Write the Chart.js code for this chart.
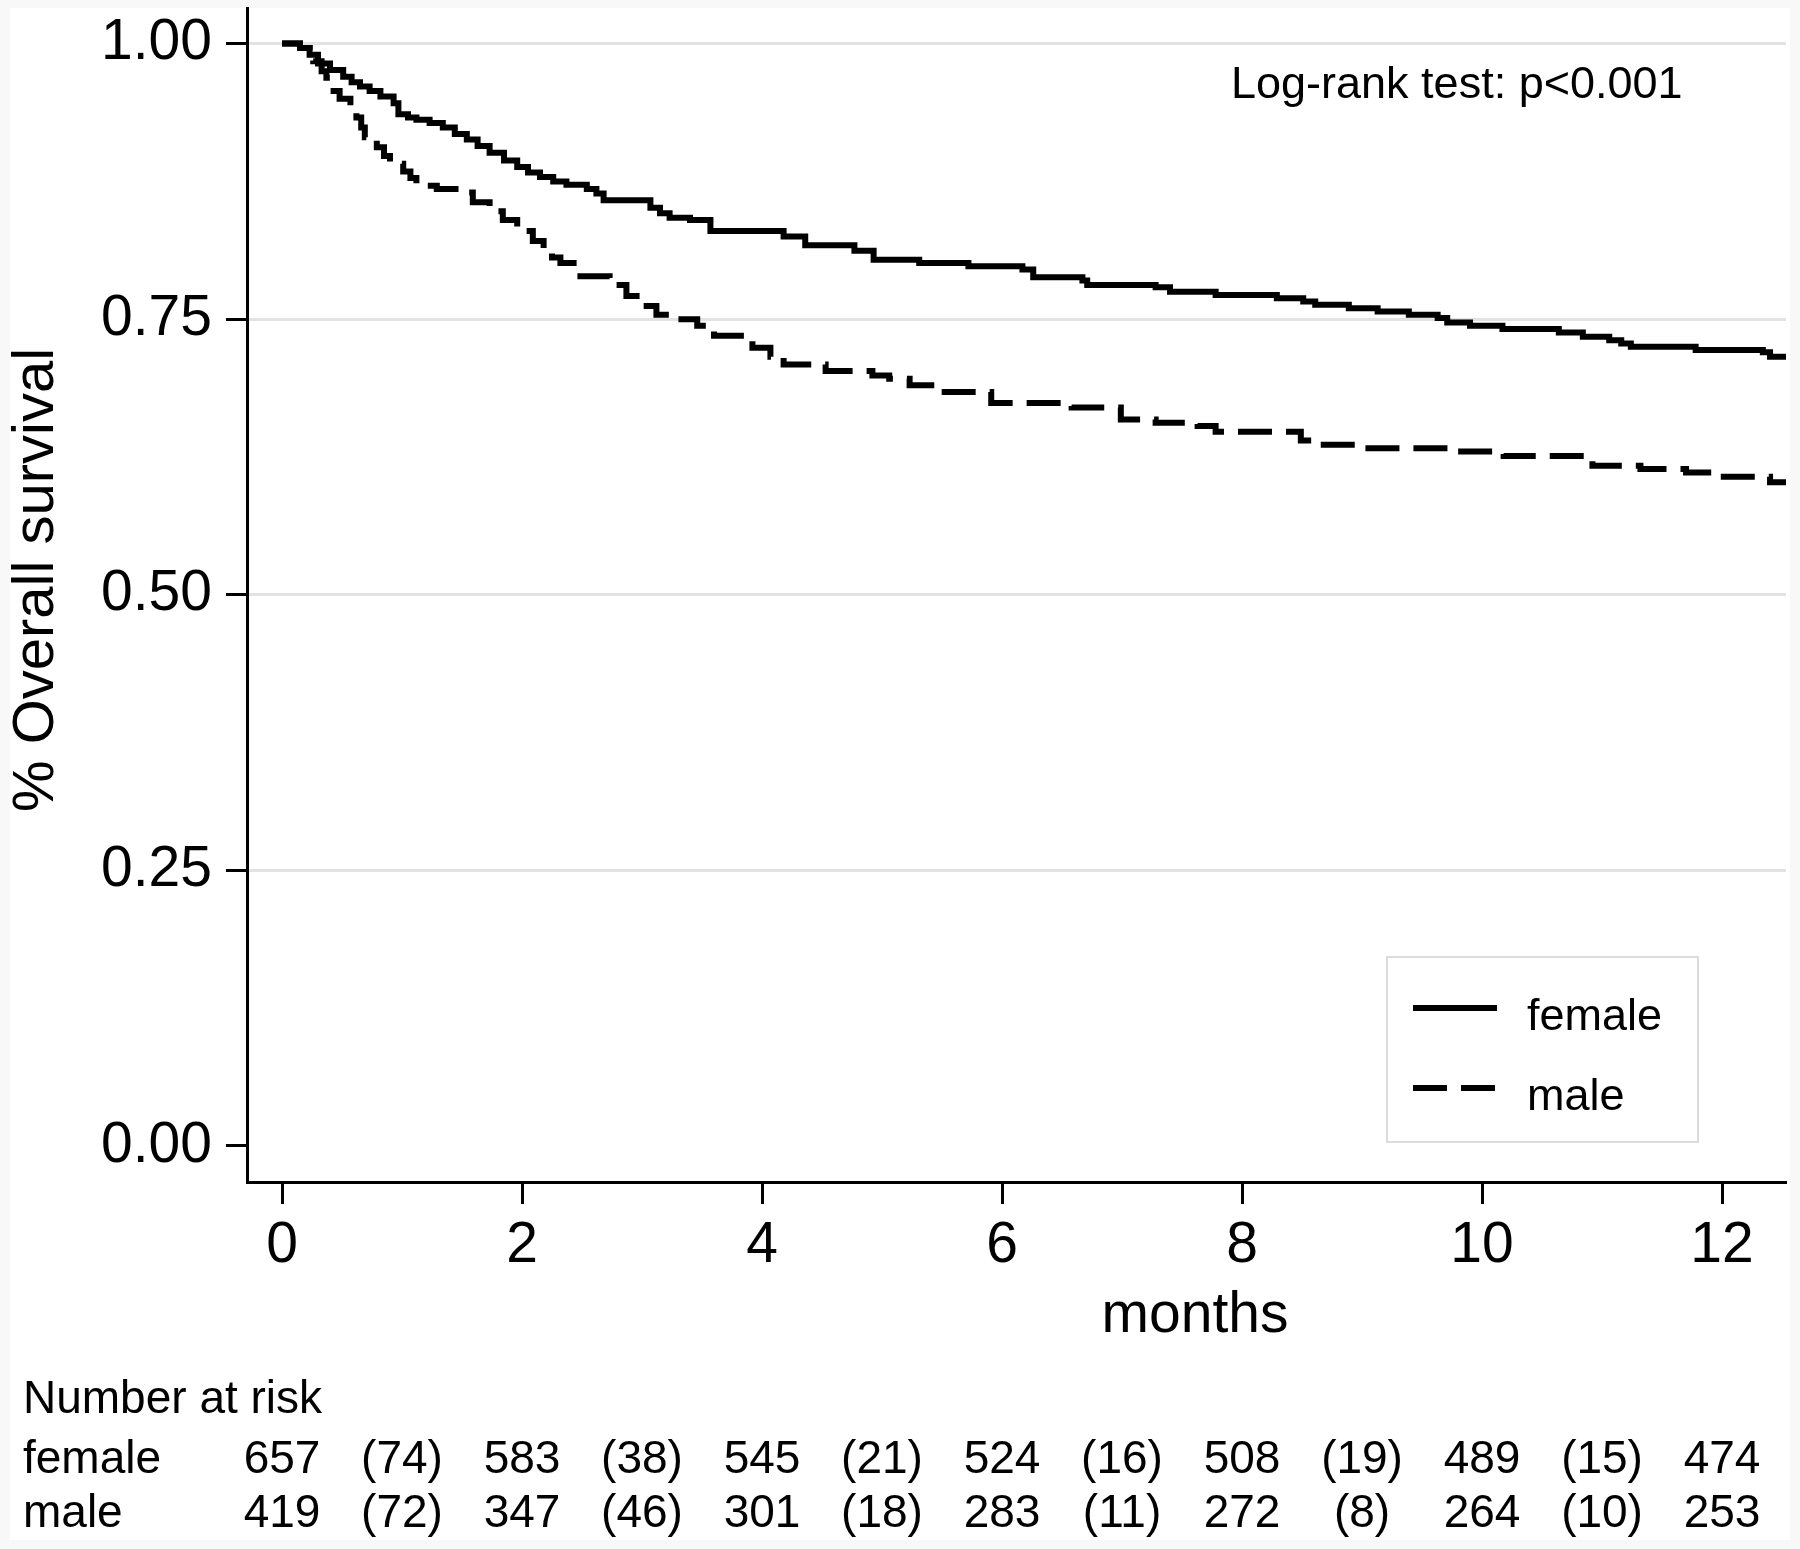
<!DOCTYPE html>
<html>
<head>
<meta charset="utf-8">
<script src="https://cdn.jsdelivr.net/npm/chart.js@4/dist/chart.umd.min.js"></script>
<style>
  html, body { margin: 0; padding: 0; background: #fff; }
  canvas { display: block; }
</style>
</head>
<body>
<canvas id="c" width="1800" height="1549"></canvas>
<script>
// ---------------- DATA ----------------
const seriesNames = ['female', 'male'];

const femaleTime = [0, 0.15, 0.23, 0.30, 0.40, 0.51, 0.58, 0.65, 0.73, 0.82, 0.93, 0.97, 1.05, 1.12, 1.23, 1.34, 1.44, 1.54, 1.63, 1.73, 1.85, 1.96, 2.05, 2.15, 2.26, 2.37, 2.54, 2.62, 2.68, 3.07, 3.15, 3.23, 3.40, 3.57, 4.18, 4.36, 4.77, 4.93, 5.31, 5.72, 6.17, 6.26, 6.67, 6.71, 7.28, 7.40, 7.78, 8.29, 8.51, 8.61, 8.89, 9.13, 9.39, 9.63, 9.71, 9.90, 10.17, 10.64, 10.84, 11.06, 11.16, 11.24, 11.78, 12.34, 12.40, 12.55];
const femaleSurv = [1.000, 0.996, 0.990, 0.982, 0.976, 0.970, 0.965, 0.961, 0.957, 0.952, 0.946, 0.936, 0.933, 0.931, 0.928, 0.924, 0.918, 0.913, 0.907, 0.901, 0.894, 0.888, 0.883, 0.879, 0.875, 0.872, 0.868, 0.864, 0.858, 0.851, 0.846, 0.842, 0.840, 0.830, 0.825, 0.817, 0.812, 0.804, 0.801, 0.798, 0.795, 0.788, 0.785, 0.781, 0.779, 0.775, 0.772, 0.769, 0.766, 0.763, 0.760, 0.757, 0.754, 0.751, 0.747, 0.744, 0.741, 0.738, 0.734, 0.731, 0.728, 0.725, 0.722, 0.720, 0.716, 0.716];

const maleTime = [0, 0.15, 0.23, 0.26, 0.33, 0.37, 0.40, 0.48, 0.57, 0.62, 0.66, 0.69, 0.79, 0.85, 0.90, 1.01, 1.07, 1.12, 1.29, 1.48, 1.59, 1.73, 1.84, 1.96, 2.09, 2.18, 2.25, 2.32, 2.43, 2.73, 2.87, 2.98, 3.12, 3.29, 3.46, 3.60, 3.92, 4.07, 4.18, 4.53, 4.92, 5.06, 5.23, 5.47, 5.91, 6.58, 6.99, 7.28, 7.63, 7.78, 8.49, 8.61, 8.99, 9.80, 10.18, 10.92, 11.32, 11.70, 11.95, 12.40, 12.55];
const maleSurv = [1.000, 0.996, 0.990, 0.984, 0.975, 0.969, 0.957, 0.950, 0.943, 0.933, 0.924, 0.915, 0.906, 0.898, 0.891, 0.884, 0.878, 0.871, 0.868, 0.865, 0.856, 0.848, 0.840, 0.830, 0.821, 0.812, 0.806, 0.801, 0.789, 0.781, 0.771, 0.762, 0.754, 0.750, 0.744, 0.735, 0.724, 0.716, 0.709, 0.703, 0.699, 0.696, 0.690, 0.684, 0.674, 0.670, 0.659, 0.656, 0.653, 0.648, 0.640, 0.636, 0.633, 0.630, 0.626, 0.617, 0.614, 0.611, 0.607, 0.602, 0.602];

const xTicks = [0, 2, 4, 6, 8, 10, 12];
const yTicks = [0, 0.25, 0.5, 0.75, 1.0];

const riskMonths = [0, 1, 2, 3, 4, 5, 6, 7, 8, 9, 10, 11, 12];
const riskFemale = ['657', '(74)', '583', '(38)', '545', '(21)', '524', '(16)', '508', '(19)', '489', '(15)', '474'];
const riskMale   = ['419', '(72)', '347', '(46)', '301', '(18)', '283', '(11)', '272', '(8)', '264', '(10)', '253'];

const xTitle = 'months';
const yTitle = '% Overall survival';
const noteText = 'Log-rank test: p<0.001';
const riskTitle = 'Number at risk';

// ---------------- CHART ----------------
const FONT = '"Liberation Sans", Arial, sans-serif';

function toPoints(t, s) { return t.map((v, i) => ({ x: v, y: s[i] })); }

const overlay = {
  id: 'overlay',
  beforeDraw(chart) {
    const ctx = chart.ctx;
    ctx.save();
    ctx.fillStyle = '#f8f8f8';
    ctx.fillRect(0, 0, chart.width, chart.height);
    ctx.fillStyle = '#ffffff';
    ctx.fillRect(10, 8, 1780, 1532);
    ctx.restore();
  },
  afterDraw(chart) {
    const ctx = chart.ctx;
    const xs = chart.scales.x;
    const ds = chart.data.datasets;
    ctx.save();
    ctx.fillStyle = '#000';

    // y-axis title (rotated)
    ctx.save();
    ctx.font = '58px ' + FONT;
    ctx.translate(53, 580);
    ctx.rotate(-Math.PI / 2);
    ctx.textAlign = 'center';
    ctx.textBaseline = 'alphabetic';
    ctx.fillText(yTitle, 0, 0);
    ctx.restore();

    // x-axis title
    ctx.font = '57px ' + FONT;
    ctx.textAlign = 'center';
    ctx.textBaseline = 'alphabetic';
    ctx.fillText(xTitle, 1195, 1332);

    // note
    ctx.font = '45px ' + FONT;
    ctx.textAlign = 'left';
    ctx.fillText(noteText, 1231, 98);

    // legend box
    ctx.strokeStyle = '#dcdcdc';
    ctx.lineWidth = 2;
    ctx.strokeRect(1387, 957, 311, 185);
    const rowsY = [1008, 1088];
    const textY = [1030, 1110];
    ds.forEach((d, i) => {
      ctx.save();
      ctx.strokeStyle = d.borderColor;
      ctx.lineWidth = d.borderWidth;
      ctx.setLineDash(d.borderDash || []);
      ctx.beginPath();
      ctx.moveTo(1413, rowsY[i]);
      ctx.lineTo(1497, rowsY[i]);
      ctx.stroke();
      ctx.restore();
      ctx.font = '45px ' + FONT;
      ctx.textAlign = 'left';
      ctx.fillText(d.label, 1527, textY[i]);
    });

    // number at risk table
    ctx.font = '46px ' + FONT;
    ctx.textAlign = 'left';
    ctx.fillText(riskTitle, 23, 1413);
    const rows = [riskFemale, riskMale];
    const rowBase = [1473, 1527];
    rows.forEach((r, ri) => {
      ctx.textAlign = 'left';
      ctx.fillText(seriesNames[ri], 23, rowBase[ri]);
      ctx.textAlign = 'center';
      r.forEach((txt, k) => {
        ctx.fillText(txt, xs.getPixelForValue(riskMonths[k]), rowBase[ri]);
      });
    });
    ctx.restore();
  }
};

new Chart(document.getElementById('c'), {
  type: 'line',
  data: {
    datasets: [
      {
        label: seriesNames[0],
        data: toPoints(femaleTime, femaleSurv),
        borderColor: '#000',
        borderWidth: 6,
        pointRadius: 0,
        stepped: 'before',
        fill: false
      },
      {
        label: seriesNames[1],
        data: toPoints(maleTime, maleSurv),
        borderColor: '#000',
        borderWidth: 6,
        borderDash: [34, 14],
        pointRadius: 0,
        stepped: 'before',
        fill: false
      }
    ]
  },
  options: {
    responsive: false,
    devicePixelRatio: 1,
    animation: false,
    layout: { padding: { top: 8, right: 14, left: 0, bottom: 0 } },
    plugins: { legend: { display: false }, tooltip: { enabled: false } },
    scales: {
      x: {
        type: 'linear',
        min: -0.2917,
        max: 12.533,
        afterBuildTicks: s => { s.ticks = xTicks.map(v => ({ value: v })); },
        afterFit: s => { s.height = 367; s.paddingLeft = 0; s.paddingRight = 0; },
        ticks: {
          color: '#000',
          font: { family: FONT, size: 57 },
          padding: 8,
          maxRotation: 0,
          autoSkip: false,
          callback: v => String(v)
        },
        grid: {
          drawOnChartArea: false,
          tickLength: 22,
          tickColor: '#000',
          tickWidth: 3
        },
        border: { color: '#000', width: 3 }
      },
      y: {
        type: 'linear',
        min: -0.0327,
        max: 1.0323,
        afterBuildTicks: s => { s.ticks = yTicks.map(v => ({ value: v })); },
        afterFit: s => { s.width = 247; s.paddingTop = 0; s.paddingBottom = 0; },
        ticks: {
          color: '#000',
          font: { family: FONT, size: 57 },
          padding: 14,
          callback: v => Number(v).toFixed(2)
        },
        grid: {
          color: c => (c.tick && c.tick.value === 0) ? 'rgba(0,0,0,0)' : '#e3e3e3',
          lineWidth: 3,
          tickLength: 21,
          tickColor: '#000',
          tickWidth: 3
        },
        border: { color: '#000', width: 3 }
      }
    }
  },
  plugins: [overlay]
});
</script>
</body>
</html>
